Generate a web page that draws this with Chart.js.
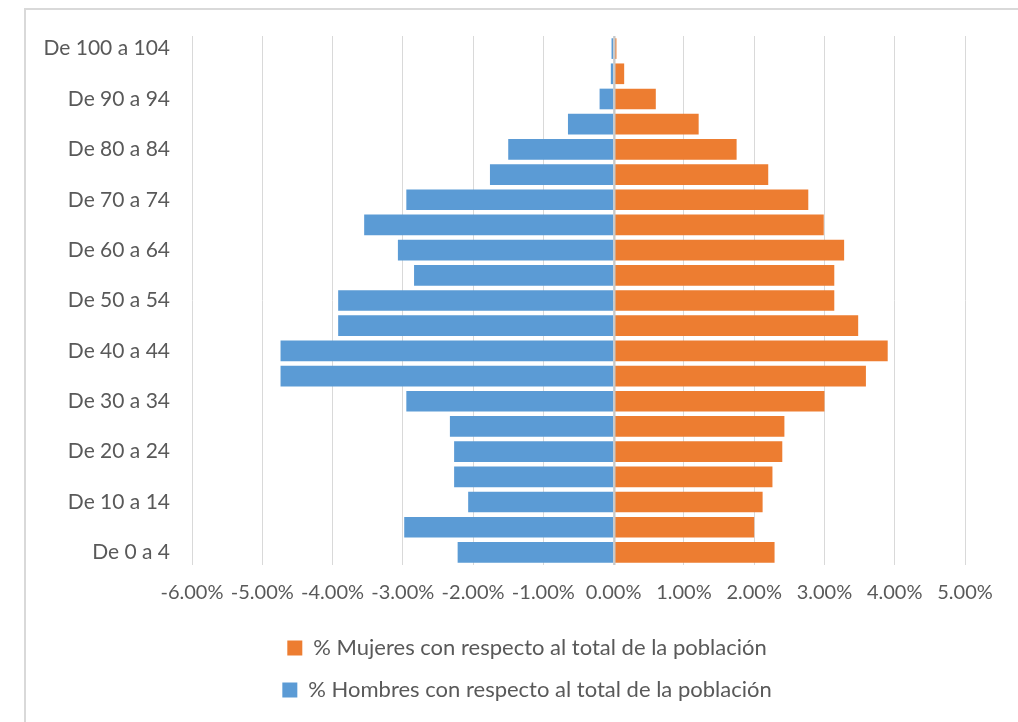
<!DOCTYPE html>
<html>
<head>
<meta charset="utf-8">
<script src="https://cdn.jsdelivr.net/npm/chart.js@4.4.1/dist/chart.umd.min.js"></script>
<style>
  html, body { margin: 0; padding: 0; background: #fff; }
  #wrap { position: relative; width: 1018px; height: 722px; overflow: hidden; }
  #frame { position: absolute; left: 24px; top: 8px; width: 1100px; height: 800px;
           border: 2px solid #d9d9d9; box-sizing: border-box; }
  #myPyramid { position: absolute; left: 0; top: 0; }
</style>
</head>
<body>
<div id="wrap">
  <div id="frame"></div>
  <canvas id="myPyramid" width="1018" height="722"></canvas>
</div>
<script>
// age groups, youngest first (axis is reversed so 0-4 sits at the bottom)
const ageGroups = [
  "De 0 a 4", "De 5 a 9", "De 10 a 14", "De 15 a 19", "De 20 a 24",
  "De 25 a 29", "De 30 a 34", "De 35 a 39", "De 40 a 44", "De 45 a 49",
  "De 50 a 54", "De 55 a 59", "De 60 a 64", "De 65 a 69", "De 70 a 74",
  "De 75 a 79", "De 80 a 84", "De 85 a 89", "De 90 a 94", "De 95 a 99",
  "De 100 a 104"
];

// % of total population
const mujeres = [
  2.29, 2.00, 2.12, 2.26, 2.40,
  2.43, 3.00, 3.59, 3.90, 3.48,
  3.14, 3.14, 3.28, 2.99, 2.77,
  2.20, 1.75, 1.21, 0.60, 0.15,
  0.04
];
const hombres = [
  -2.22, -2.98, -2.07, -2.27, -2.27,
  -2.33, -2.95, -4.74, -4.74, -3.92,
  -3.92, -2.84, -3.07, -3.55, -2.95,
  -1.76, -1.50, -0.65, -0.20, -0.04,
  -0.03
];

const xTicks = [-6, -5, -4, -3, -2, -1, 0, 1, 2, 3, 4, 5];

const labelMujeres = "% Mujeres con respecto al total de la población";
const labelHombres = "% Hombres con respecto al total de la población";

const textColor = "#595959";
const gridColor = "#d9d9d9";
const fontFamily = "Lato, 'Open Sans', sans-serif";

// vertical line at 0%, drawn over the bars like the Excel axis
const zeroLine = {
  id: "zeroLine",
  afterDatasetsDraw(chart) {
    const x = Math.round(chart.scales.x.getPixelForValue(0)) + 0.5;
    const area = chart.chartArea;
    const ctx = chart.ctx;
    ctx.save();
    ctx.strokeStyle = "#c8c8c8";
    ctx.lineWidth = 2;
    ctx.beginPath();
    ctx.moveTo(x, area.top);
    ctx.lineTo(x, area.bottom);
    ctx.stroke();
    ctx.restore();
  }
};

function setupPyramid() {
  var canvas = document.getElementById("myPyramid");
  if (!canvas) {
    console.error("Canvas for myPyramid not found!");
    return null;
  }
  var ctx = canvas.getContext("2d");

  return new Chart(ctx, {
    type: "bar",
    data: {
      labels: ageGroups,
      datasets: [
        {
          label: labelMujeres,
          data: mujeres,
          backgroundColor: "#ED7D31",
          categoryPercentage: 1.0,
          barPercentage: 0.82
        },
        {
          label: labelHombres,
          data: hombres,
          backgroundColor: "#5B9BD5",
          categoryPercentage: 1.0,
          barPercentage: 0.82
        }
      ]
    },
    options: {
      responsive: false,
      animation: false,
      indexAxis: "y",
      layout: {
        padding: { top: 36, bottom: 11, left: 40, right: 4 }
      },
      scales: {
        x: {
          stacked: true,
          min: -6,
          max: 5,
          afterBuildTicks: function (scale) {
            scale.ticks = xTicks.map(v => ({ value: v }));
          },
          afterFit: function (scale) {
            scale.height = 52;
            scale.paddingRight = 53; // plot ends at the 5% line like the original
          },
          grid: { color: gridColor, lineWidth: 1, drawTicks: false },
          border: { display: false },
          ticks: {
            autoSkip: false,
            maxRotation: 0,
            padding: 16,
            color: textColor,
            font: { family: fontFamily, size: 20 },
            callback: function (value) {
              return value.toFixed(2) + "%";
            }
          }
        },
        y: {
          stacked: true,
          reverse: true,
          afterFit: function (scale) {
            scale.width = 192 - 40;
          },
          grid: { display: false, drawTicks: false },
          border: { display: false },
          ticks: {
            autoSkip: false,
            padding: 22,
            color: textColor,
            font: { family: fontFamily, size: 21 },
            callback: function (value, index) {
              return index % 2 === 0 ? this.getLabelForValue(value) : "";
            }
          }
        }
      },
      plugins: {
        legend: {
          position: "bottom",
          labels: {
            boxWidth: 15,
            boxHeight: 15,
            padding: 20,
            color: textColor,
            font: { family: fontFamily, size: 22 }
          }
        },
        tooltip: { enabled: false }
      }
    },
    plugins: [zeroLine]
  });
}

const myPyramid = setupPyramid();
</script>
</body>
</html>
